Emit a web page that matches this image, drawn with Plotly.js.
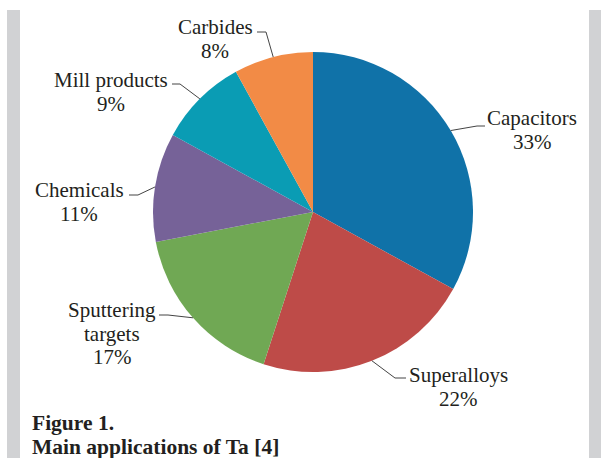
<!DOCTYPE html>
<html>
<head>
<meta charset="utf-8">
<script src="https://cdn.plot.ly/plotly-3.0.1.min.js"></script>
<style>
  html, body { margin: 0; padding: 0; background: #ffffff; }
  #chart { width: 602px; height: 458px; }
</style>
</head>
<body>
<div id="chart"></div>
<script>
// ---- data ----
const categories = ["Capacitors", "Superalloys", "Sputtering\ntargets", "Chemicals", "Mill products", "Carbides"];
const values = [33, 22, 17, 11, 9, 8];
const sliceColors = ["#1072A8", "#BE4B48", "#70A854", "#766298", "#0A9CB4", "#F28B46"];
const captionLines = ["Figure 1.", "Main applications of Ta [4]"];

// ---- layout constants (pixels) ----
const W = 602, H = 458;
const cx = 313, cy = 212, R = 160;
const labelPos = [
  {x: 532, y: 118, elbow: [477, 126], end: [485, 126]},
  {x: 458, y: 375, elbow: [395, 378], end: [406, 378]},
  {x: 112, y: 310, elbow: [168, 315], end: [159, 315]},
  {x: 79,  y: 190, elbow: [138, 195], end: [129, 195]},
  {x: 111, y: 80,  elbow: [180, 84],  end: [172, 84]},
  {x: 215, y: 27,  elbow: [266, 32],  end: [257, 32]}
];
const lineGap = 23.5;
const serif = "Liberation Serif, Times New Roman, serif";
const textFont = {family: serif, size: 21, color: "#231f20"};

const px = x => x / W;
const py = y => 1 - y / H;

const total = values.reduce((a, b) => a + b, 0);
const annotations = [];
const shapes = [];

shapes.push({type: "rect", xref: "paper", yref: "paper", x0: px(7), x1: px(20), y0: 0, y1: py(10),
  fillcolor: "#d1d2d4", line: {width: 0}, layer: "below"});
shapes.push({type: "rect", xref: "paper", yref: "paper", x0: px(589), x1: px(601), y0: 0, y1: py(10),
  fillcolor: "#d1d2d4", line: {width: 0}, layer: "below"});

let cum = 0;
categories.forEach((cat, i) => {
  const mid = (cum + values[i] / 2) / total * 2 * Math.PI;
  cum += values[i];
  const ax = cx + R * Math.sin(mid);
  const ay = cy - R * Math.cos(mid);
  const lp = labelPos[i];
  const lines = cat.split("\n").concat([values[i] + "%"]);
  lines.forEach((t, k) => {
    annotations.push({
      text: t, xref: "paper", yref: "paper", x: px(lp.x), y: py(lp.y + k * lineGap),
      xanchor: "center", yanchor: "middle", showarrow: false, font: textFont
    });
  });
  shapes.push({
    type: "path", xref: "paper", yref: "paper",
    path: `M ${px(lp.end[0])} ${py(lp.end[1])} L ${px(lp.elbow[0])} ${py(lp.elbow[1])} L ${px(ax)} ${py(ay)}`,
    line: {color: "#444444", width: 1}
  });
});

captionLines.forEach((t, k) => {
  annotations.push({
    text: "<b>" + t + "</b>", xref: "paper", yref: "paper", x: px(30), y: py(423 + k * 23.5),
    xanchor: "left", yanchor: "middle", showarrow: false,
    font: {family: serif, size: 21.5, color: "#231f20"}
  });
});

const trace = {
  type: "pie",
  labels: categories.map(c => c.replace("\n", " ")),
  values: values,
  sort: false,
  direction: "clockwise",
  rotation: 0,
  textinfo: "none",
  hoverinfo: "label+percent",
  marker: {colors: sliceColors, line: {width: 0}},
  domain: {x: [px(cx - R), px(cx + R)], y: [py(cy + R), py(cy - R)]},
  showlegend: false
};

const layout = {
  width: W, height: H,
  margin: {l: 0, r: 0, t: 0, b: 0},
  paper_bgcolor: "#ffffff",
  plot_bgcolor: "#ffffff",
  font: {family: serif},
  showlegend: false,
  annotations: annotations,
  shapes: shapes
};

Plotly.newPlot("chart", [trace], layout, {displayModeBar: false, staticPlot: true});
</script>
</body>
</html>
